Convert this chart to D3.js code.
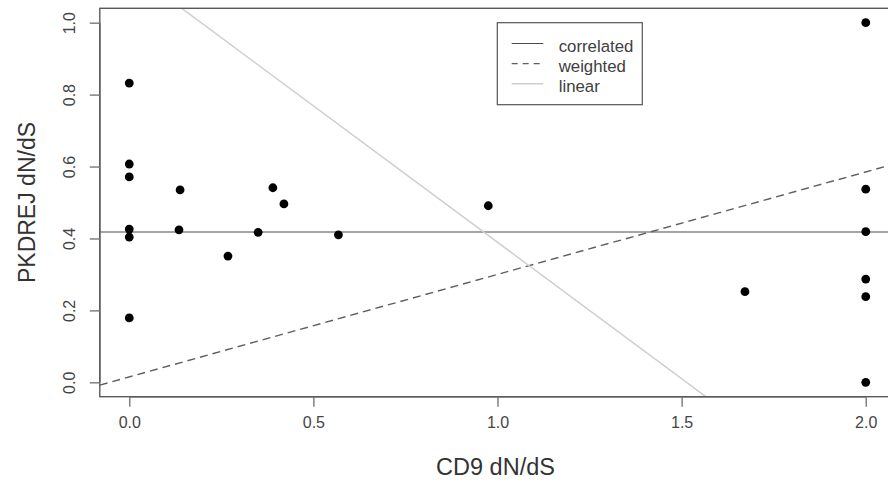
<!DOCTYPE html>
<html>
<head>
<meta charset="utf-8">
<script src="https://cdn.jsdelivr.net/npm/d3@7"></script>
<style>
  html, body { margin: 0; padding: 0; background: #fff; }
  svg { display: block; font-family: "Liberation Sans", Arial, Helvetica, sans-serif; }
</style>
</head>
<body>
<svg id="chart" width="888" height="484"></svg>
<script>
// Per-gene dN/dS values
const cd9 = [0, 0, 0, 0, 0, 0, 0.135, 0.138, 0.268, 0.350, 0.390, 0.420, 0.568, 0.975, 1.672, 2, 2, 2, 2, 2, 2];
const pkdrej = [0.832, 0.607, 0.571, 0.426, 0.404, 0.179, 0.424, 0.535, 0.351, 0.417, 0.541, 0.496, 0.410, 0.491, 0.252, 1.0, 0.537, 0.419, 0.287, 0.238, 0.0];

// Fitted lines: intercept / slope
const fitNames = ["correlated", "weighted", "linear"];
const fitIntercepts = [0.418, 0.015, 1.148];
const fitSlopes = [0, 0.285, -0.7586];

const xTicks = [0, 0.5, 1, 1.5, 2];
const yTicks = [0, 0.2, 0.4, 0.6, 0.8, 1.0];
const xTitle = "CD9 dN/dS";
const yTitle = "PKDREJ dN/dS";

const svg = d3.select("#chart");

// Data range padded by 4% on each side
const x = d3.scaleLinear().domain([-0.08, 2.08]).range([99.8, 895.2]);
const y = d3.scaleLinear().domain([-0.04, 1.04]).range([396.7, 8.3]);

const fitStyles = [
  { stroke: "#4a4a4a", dash: null, width: 1.2 },
  { stroke: "#5e5e5e", dash: "8,5", width: 1.4 },
  { stroke: "#cfcfcf", dash: null, width: 1.5 }
];

svg.append("clipPath").attr("id", "plotclip")
  .append("rect")
  .attr("x", x(-0.08)).attr("y", y(1.04))
  .attr("width", x(2.08) - x(-0.08)).attr("height", y(-0.04) - y(1.04));

// Fitted lines
const plot = svg.append("g").attr("clip-path", "url(#plotclip)");
fitNames.forEach((name, i) => {
  const x0 = -0.08, x1 = 2.08;
  plot.append("line")
    .attr("x1", x(x0)).attr("y1", y(fitIntercepts[i] + fitSlopes[i] * x0))
    .attr("x2", x(x1)).attr("y2", y(fitIntercepts[i] + fitSlopes[i] * x1))
    .attr("stroke", fitStyles[i].stroke)
    .attr("stroke-width", fitStyles[i].width)
    .attr("stroke-dasharray", fitStyles[i].dash);
});

// Points
svg.append("g").selectAll("circle")
  .data(cd9.map((v, i) => [v, pkdrej[i]]))
  .join("circle")
  .attr("cx", d => x(d[0]))
  .attr("cy", d => y(d[1]))
  .attr("r", 4.4)
  .attr("fill", "#000");

// Plot frame
svg.append("rect")
  .attr("x", x(-0.08)).attr("y", y(1.04))
  .attr("width", x(2.08) - x(-0.08)).attr("height", y(-0.04) - y(1.04))
  .attr("fill", "none").attr("stroke", "#5a5a5a").attr("stroke-width", 1.4);

// Axes
const xAxis = d3.axisBottom(x).tickValues(xTicks).tickFormat(d3.format(".1f")).tickSize(10).tickPadding(10);
const gx = svg.append("g").attr("transform", `translate(0,${y(-0.04)})`).call(xAxis);
gx.select(".domain").attr("d", `M${x(0)},0H${x(2)}`).attr("stroke", "#5a5a5a").attr("stroke-width", 1.4);
gx.selectAll(".tick line").attr("stroke", "#777").attr("stroke-width", 1.4);
gx.selectAll(".tick text").attr("font-size", 16).attr("fill", "#444")
  .attr("font-family", "Liberation Sans, Arial, sans-serif");

const yAxis = d3.axisLeft(y).tickValues(yTicks).tickFormat(d3.format(".1f")).tickSize(10);
const gy = svg.append("g").attr("transform", `translate(${x(-0.08)},0)`).call(yAxis);
gy.select(".domain").attr("d", `M0,${y(0)}V${y(1)}`).attr("stroke", "#5a5a5a").attr("stroke-width", 1.4);
gy.selectAll(".tick line").attr("stroke", "#777").attr("stroke-width", 1.4);
gy.selectAll(".tick text")
  .attr("font-size", 16).attr("fill", "#444")
  .attr("font-family", "Liberation Sans, Arial, sans-serif")
  .attr("x", null).attr("dy", null)
  .attr("text-anchor", "middle")
  .attr("transform", `translate(${75 - x(-0.08)},0) rotate(-90)`);

// Axis titles
svg.append("text")
  .attr("x", (x(-0.08) + x(2.08)) / 2 - 2).attr("y", 474.5)
  .attr("text-anchor", "middle").attr("font-size", 23.5).attr("fill", "#333")
  .text(xTitle);

svg.append("text")
  .attr("transform", `translate(35,${(y(1.04) + y(-0.04)) / 2}) rotate(-90)`)
  .attr("text-anchor", "middle").attr("font-size", 23).attr("fill", "#333")
  .text(yTitle);

// Legend
const lg = svg.append("g");
lg.append("rect")
  .attr("x", 497.3).attr("y", 22.7).attr("width", 145).attr("height", 82)
  .attr("fill", "#fff").attr("stroke", "#555").attr("stroke-width", 1.2);
fitNames.forEach((name, i) => {
  const base = 51.5 + i * 20.1;
  lg.append("line")
    .attr("x1", 511.7).attr("x2", 543.3)
    .attr("y1", base - 8).attr("y2", base - 8)
    .attr("stroke", fitStyles[i].stroke)
    .attr("stroke-width", fitStyles[i].width)
    .attr("stroke-dasharray", fitStyles[i].dash ? "6,5" : null);
  lg.append("text")
    .attr("x", 558.7).attr("y", base)
    .attr("font-size", 16.8).attr("fill", "#404040")
    .text(name);
});
</script>
</body>
</html>
